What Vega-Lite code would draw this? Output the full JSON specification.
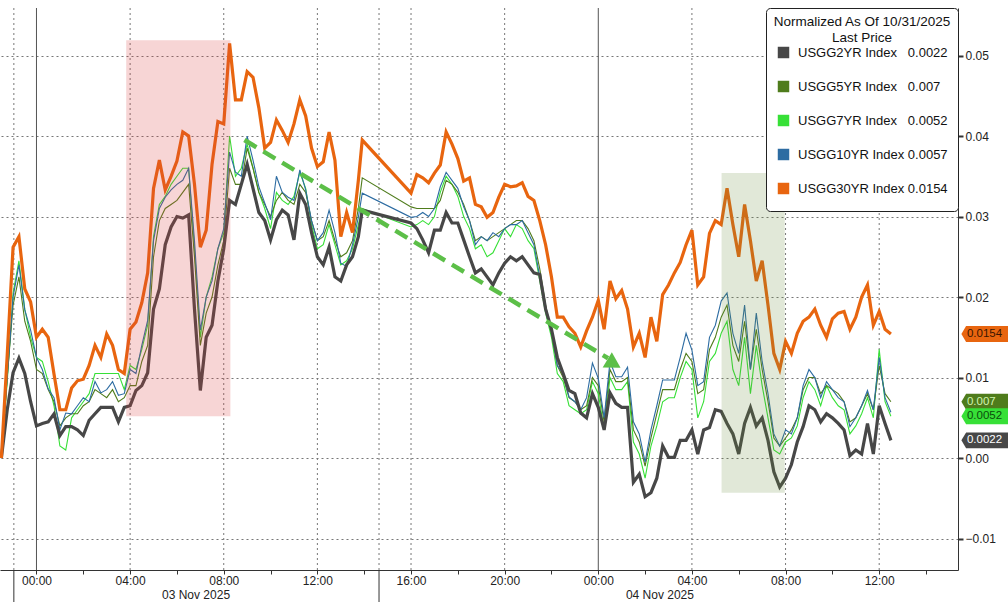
{
  "width": 958,
  "height": 562,
  "autosize": {"type": "none"},
  "padding": {"left": 0, "top": 8, "right": 50, "bottom": 32},
  "background": "white",
  "config": {
    "font": "Liberation Sans",
    "view": {"stroke": null},
    "axis": {"labelFont": "Liberation Sans", "labelColor": "#222", "labelFontSize": 12}
  },
  "data": {"values": [
      {"t":"2025-11-02T22:30Z","y2":0,"y5":0,"y7":0,"y10":0,"y30":0},
      {"t":"2025-11-02T22:45Z","y2":0.006,"y5":0.010,"y7":0.0095,"y10":0.010,"y30":0.0128},
      {"t":"2025-11-02T23:00Z","y2":0.0106,"y5":0.019,"y7":0.0205,"y10":0.020,"y30":0.0262},
      {"t":"2025-11-02T23:15Z","y2":0.0124,"y5":0.0225,"y7":0.0245,"y10":0.024,"y30":0.0275},
      {"t":"2025-11-02T23:30Z","y2":0.0105,"y5":0.017,"y7":0.0185,"y10":0.0184,"y30":0.021},
      {"t":"2025-11-02T23:45Z","y2":0.007,"y5":0.0145,"y7":0.015,"y10":0.0159,"y30":0.0194},
      {"t":"2025-11-03T00:00Z","y2":0.004,"y5":0.011,"y7":0.0125,"y10":0.0125,"y30":0.015},
      {"t":"2025-11-03T00:15Z","y2":0.0043,"y5":0.0105,"y7":0.012,"y10":0.011,"y30":0.016},
      {"t":"2025-11-03T00:30Z","y2":0.0045,"y5":0.0085,"y7":0.0095,"y10":0.0086,"y30":0.015},
      {"t":"2025-11-03T00:45Z","y2":0.0055,"y5":0.007,"y7":0.0065,"y10":0.0075,"y30":0.0104},
      {"t":"2025-11-03T01:00Z","y2":0.0028,"y5":0.004,"y7":0.0015,"y10":0.0035,"y30":0.006},
      {"t":"2025-11-03T01:15Z","y2":0.0039,"y5":0.005,"y7":0.001,"y10":0.0056,"y30":0.006},
      {"t":"2025-11-03T01:30Z","y2":0.0039,"y5":0.0055,"y7":0.005,"y10":0.0055,"y30":0.0087},
      {"t":"2025-11-03T01:45Z","y2":0.0035,"y5":0.0055,"y7":0.006,"y10":0.0065,"y30":0.0096},
      {"t":"2025-11-03T02:00Z","y2":0.0028,"y5":0.0065,"y7":0.007,"y10":0.0075,"y30":0.0098},
      {"t":"2025-11-03T02:15Z","y2":0.0047,"y5":0.007,"y7":0.008,"y10":0.007,"y30":0.0115},
      {"t":"2025-11-03T02:30Z","y2":0.0055,"y5":0.0085,"y7":0.0105,"y10":0.0095,"y30":0.014},
      {"t":"2025-11-03T02:45Z","y2":0.0063,"y5":0.008,"y7":0.0105,"y10":0.0081,"y30":0.0125},
      {"t":"2025-11-03T03:00Z","y2":0.0063,"y5":0.0075,"y7":0.0105,"y10":0.0085,"y30":0.0154},
      {"t":"2025-11-03T03:15Z","y2":0.0063,"y5":0.0085,"y7":0.0105,"y10":0.0095,"y30":0.014},
      {"t":"2025-11-03T03:30Z","y2":0.0045,"y5":0.007,"y7":0.0105,"y10":0.0078,"y30":0.011},
      {"t":"2025-11-03T03:45Z","y2":0.0063,"y5":0.0075,"y7":0.0085,"y10":0.008,"y30":0.0105},
      {"t":"2025-11-03T04:00Z","y2":0.0065,"y5":0.009,"y7":0.0115,"y10":0.011,"y30":0.016},
      {"t":"2025-11-03T04:15Z","y2":0.0084,"y5":0.009,"y7":0.011,"y10":0.0105,"y30":0.0169},
      {"t":"2025-11-03T04:30Z","y2":0.009,"y5":0.012,"y7":0.0135,"y10":0.014,"y30":0.0193},
      {"t":"2025-11-03T04:45Z","y2":0.0106,"y5":0.014,"y7":0.0165,"y10":0.0171,"y30":0.023},
      {"t":"2025-11-03T05:00Z","y2":0.0185,"y5":0.025,"y7":0.0275,"y10":0.027,"y30":0.0335},
      {"t":"2025-11-03T05:15Z","y2":0.021,"y5":0.0295,"y7":0.0315,"y10":0.031,"y30":0.037},
      {"t":"2025-11-03T05:30Z","y2":0.0265,"y5":0.031,"y7":0.0325,"y10":0.0324,"y30":0.0333},
      {"t":"2025-11-03T05:45Z","y2":0.0287,"y5":0.0315,"y7":0.034,"y10":0.0333,"y30":0.035},
      {"t":"2025-11-03T06:00Z","y2":0.030,"y5":0.032,"y7":0.035,"y10":0.034,"y30":0.0369},
      {"t":"2025-11-03T06:15Z","y2":0.0298,"y5":0.033,"y7":0.036,"y10":0.0345,"y30":0.0405},
      {"t":"2025-11-03T06:30Z","y2":0.0302,"y5":0.034,"y7":0.036,"y10":0.036,"y30":0.040},
      {"t":"2025-11-03T06:45Z","y2":0.0185,"y5":0.025,"y7":0.026,"y10":0.027,"y30":0.034},
      {"t":"2025-11-03T07:00Z","y2":0.0084,"y5":0.014,"y7":0.015,"y10":0.0159,"y30":0.0262},
      {"t":"2025-11-03T07:15Z","y2":0.015,"y5":0.018,"y7":0.020,"y10":0.020,"y30":0.0283},
      {"t":"2025-11-03T07:30Z","y2":0.0165,"y5":0.020,"y7":0.0225,"y10":0.022,"y30":0.0365},
      {"t":"2025-11-03T07:45Z","y2":0.022,"y5":0.024,"y7":0.026,"y10":0.026,"y30":0.0418},
      {"t":"2025-11-03T08:00Z","y2":0.026,"y5":0.027,"y7":0.028,"y10":0.0285,"y30":0.0415},
      {"t":"2025-11-03T08:15Z","y2":0.032,"y5":0.036,"y7":0.040,"y10":0.038,"y30":0.0515},
      {"t":"2025-11-03T08:30Z","y2":0.0315,"y5":0.034,"y7":0.035,"y10":0.0355,"y30":0.0445},
      {"t":"2025-11-03T08:45Z","y2":0.034,"y5":0.034,"y7":0.036,"y10":0.035,"y30":0.0445},
      {"t":"2025-11-03T09:00Z","y2":0.0365,"y5":0.0385,"y7":0.039,"y10":0.040,"y30":0.048},
      {"t":"2025-11-03T09:15Z","y2":0.0335,"y5":0.036,"y7":0.036,"y10":0.037,"y30":0.0473},
      {"t":"2025-11-03T09:30Z","y2":0.0305,"y5":0.033,"y7":0.033,"y10":0.0337,"y30":0.0435},
      {"t":"2025-11-03T09:45Z","y2":0.0295,"y5":0.0315,"y7":0.031,"y10":0.0317,"y30":0.0385},
      {"t":"2025-11-03T10:00Z","y2":0.0271,"y5":0.030,"y7":0.0285,"y10":0.0296,"y30":0.0392},
      {"t":"2025-11-03T10:15Z","y2":0.0296,"y5":0.032,"y7":0.033,"y10":0.035,"y30":0.042},
      {"t":"2025-11-03T10:30Z","y2":0.0308,"y5":0.033,"y7":0.032,"y10":0.033,"y30":0.0407},
      {"t":"2025-11-03T10:45Z","y2":0.0302,"y5":0.032,"y7":0.0315,"y10":0.0324,"y30":0.0392},
      {"t":"2025-11-03T11:00Z","y2":0.0271,"y5":0.0315,"y7":0.0325,"y10":0.032,"y30":0.0415},
      {"t":"2025-11-03T11:15Z","y2":0.0329,"y5":0.034,"y7":0.0355,"y10":0.0358,"y30":0.0445},
      {"t":"2025-11-03T11:30Z","y2":0.0315,"y5":0.033,"y7":0.0335,"y10":0.0333,"y30":0.0425},
      {"t":"2025-11-03T11:45Z","y2":0.028,"y5":0.0295,"y7":0.029,"y10":0.0295,"y30":0.0385},
      {"t":"2025-11-03T12:00Z","y2":0.025,"y5":0.027,"y7":0.026,"y10":0.027,"y30":0.0362},
      {"t":"2025-11-03T12:15Z","y2":0.024,"y5":0.0275,"y7":0.0265,"y10":0.028,"y30":0.0368},
      {"t":"2025-11-03T12:30Z","y2":0.0262,"y5":0.0295,"y7":0.029,"y10":0.0308,"y30":0.0405},
      {"t":"2025-11-03T12:45Z","y2":0.0225,"y5":0.027,"y7":0.0265,"y10":0.028,"y30":0.037},
      {"t":"2025-11-03T13:00Z","y2":0.022,"y5":0.025,"y7":0.024,"y10":0.0242,"y30":0.0275},
      {"t":"2025-11-03T13:15Z","y2":0.024,"y5":0.0255,"y7":0.0245,"y10":0.0238,"y30":0.0305},
      {"t":"2025-11-03T13:30Z","y2":0.025,"y5":0.027,"y7":0.026,"y10":0.0265,"y30":0.028},
      {"t":"2025-11-03T13:45Z","y2":0.0275,"y5":0.031,"y7":0.029,"y10":0.0299,"y30":0.0345},
      {"t":"2025-11-03T13:55Z","y2":0.0308,"y5":0.0348,"y7":0.031,"y10":0.0329,"y30":0.0395},
      {"t":"2025-11-03T16:00Z","y2":0.0292,"y5":0.0312,"y7":0.0287,"y10":0.0299,"y30":0.0329},
      {"t":"2025-11-03T16:15Z","y2":0.0285,"y5":0.031,"y7":0.029,"y10":0.030,"y30":0.0352},
      {"t":"2025-11-03T16:30Z","y2":0.0271,"y5":0.031,"y7":0.0295,"y10":0.0305,"y30":0.0348},
      {"t":"2025-11-03T16:45Z","y2":0.0255,"y5":0.031,"y7":0.029,"y10":0.030,"y30":0.0342},
      {"t":"2025-11-03T17:00Z","y2":0.0283,"y5":0.031,"y7":0.030,"y10":0.031,"y30":0.0354},
      {"t":"2025-11-03T17:15Z","y2":0.0283,"y5":0.032,"y7":0.033,"y10":0.0337,"y30":0.0364},
      {"t":"2025-11-03T17:30Z","y2":0.0305,"y5":0.0345,"y7":0.035,"y10":0.0355,"y30":0.0405},
      {"t":"2025-11-03T17:45Z","y2":0.0292,"y5":0.034,"y7":0.034,"y10":0.0345,"y30":0.039},
      {"t":"2025-11-03T18:00Z","y2":0.0292,"y5":0.033,"y7":0.0325,"y10":0.0335,"y30":0.0372},
      {"t":"2025-11-03T18:15Z","y2":0.0271,"y5":0.0315,"y7":0.030,"y10":0.0312,"y30":0.0344},
      {"t":"2025-11-03T18:30Z","y2":0.025,"y5":0.0295,"y7":0.0285,"y10":0.0295,"y30":0.0348},
      {"t":"2025-11-03T18:45Z","y2":0.023,"y5":0.027,"y7":0.026,"y10":0.0265,"y30":0.0315},
      {"t":"2025-11-03T19:00Z","y2":0.0235,"y5":0.0275,"y7":0.0265,"y10":0.0275,"y30":0.0312},
      {"t":"2025-11-03T19:15Z","y2":0.0225,"y5":0.027,"y7":0.025,"y10":0.027,"y30":0.0299},
      {"t":"2025-11-03T19:30Z","y2":0.0215,"y5":0.0275,"y7":0.0255,"y10":0.028,"y30":0.0305},
      {"t":"2025-11-03T19:45Z","y2":0.023,"y5":0.028,"y7":0.027,"y10":0.0275,"y30":0.0324},
      {"t":"2025-11-03T20:00Z","y2":0.0242,"y5":0.0285,"y7":0.0285,"y10":0.0285,"y30":0.034},
      {"t":"2025-11-03T20:15Z","y2":0.025,"y5":0.029,"y7":0.0275,"y10":0.029,"y30":0.0337},
      {"t":"2025-11-03T20:30Z","y2":0.0245,"y5":0.0295,"y7":0.029,"y10":0.029,"y30":0.0338},
      {"t":"2025-11-03T20:45Z","y2":0.025,"y5":0.0295,"y7":0.0285,"y10":0.0295,"y30":0.0342},
      {"t":"2025-11-03T21:00Z","y2":0.024,"y5":0.0285,"y7":0.027,"y10":0.028,"y30":0.0325},
      {"t":"2025-11-03T21:15Z","y2":0.023,"y5":0.027,"y7":0.026,"y10":0.0265,"y30":0.032},
      {"t":"2025-11-03T21:30Z","y2":0.0228,"y5":0.0235,"y7":0.022,"y10":0.0225,"y30":0.0295},
      {"t":"2025-11-03T21:45Z","y2":0.0185,"y5":0.019,"y7":0.018,"y10":0.0185,"y30":0.0265},
      {"t":"2025-11-03T22:00Z","y2":0.016,"y5":0.0155,"y7":0.015,"y10":0.0158,"y30":0.0225},
      {"t":"2025-11-03T22:15Z","y2":0.0125,"y5":0.0115,"y7":0.0105,"y10":0.0115,"y30":0.0175},
      {"t":"2025-11-03T22:30Z","y2":0.0105,"y5":0.010,"y7":0.0095,"y10":0.0105,"y30":0.0175},
      {"t":"2025-11-03T22:45Z","y2":0.0084,"y5":0.0075,"y7":0.0065,"y10":0.0076,"y30":0.0163},
      {"t":"2025-11-03T23:00Z","y2":0.008,"y5":0.007,"y7":0.006,"y10":0.007,"y30":0.0155},
      {"t":"2025-11-03T23:15Z","y2":0.0056,"y5":0.006,"y7":0.0055,"y10":0.006,"y30":0.0138},
      {"t":"2025-11-03T23:30Z","y2":0.005,"y5":0.0065,"y7":0.006,"y10":0.0075,"y30":0.0158},
      {"t":"2025-11-03T23:45Z","y2":0.008,"y5":0.010,"y7":0.0095,"y10":0.0118,"y30":0.0175},
      {"t":"2025-11-04T00:00Z","y2":0.0063,"y5":0.009,"y7":0.008,"y10":0.0099,"y30":0.0196},
      {"t":"2025-11-04T00:15Z","y2":0.0035,"y5":0.0045,"y7":0.0035,"y10":0.005,"y30":0.016},
      {"t":"2025-11-04T00:30Z","y2":0.0081,"y5":0.011,"y7":0.010,"y10":0.012,"y30":0.022},
      {"t":"2025-11-04T00:45Z","y2":0.0068,"y5":0.0095,"y7":0.0085,"y10":0.0101,"y30":0.0198},
      {"t":"2025-11-04T01:00Z","y2":0.0063,"y5":0.0095,"y7":0.0085,"y10":0.0101,"y30":0.0208},
      {"t":"2025-11-04T01:15Z","y2":0.0063,"y5":0.010,"y7":0.0095,"y10":0.0113,"y30":0.0185},
      {"t":"2025-11-04T01:30Z","y2":-0.003,"y5":0.0035,"y7":0.002,"y10":0.0045,"y30":0.0138},
      {"t":"2025-11-04T01:45Z","y2":-0.002,"y5":0.002,"y7":0.0005,"y10":0.003,"y30":0.0155},
      {"t":"2025-11-04T02:00Z","y2":-0.0048,"y5":-0.001,"y7":-0.0025,"y10":-0.0005,"y30":0.0125},
      {"t":"2025-11-04T02:15Z","y2":-0.0043,"y5":0.0025,"y7":0.0015,"y10":0.0035,"y30":0.0175},
      {"t":"2025-11-04T02:30Z","y2":-0.0025,"y5":0.0055,"y7":0.004,"y10":0.0065,"y30":0.0145},
      {"t":"2025-11-04T02:45Z","y2":0.0015,"y5":0.0085,"y7":0.007,"y10":0.0097,"y30":0.0203},
      {"t":"2025-11-04T03:00Z","y2":0.0001,"y5":0.0085,"y7":0.0075,"y10":0.0097,"y30":0.0215},
      {"t":"2025-11-04T03:15Z","y2":0.0001,"y5":0.0085,"y7":0.0075,"y10":0.0097,"y30":0.023},
      {"t":"2025-11-04T03:30Z","y2":0.0022,"y5":0.011,"y7":0.010,"y10":0.0125,"y30":0.0243},
      {"t":"2025-11-04T03:45Z","y2":0.0022,"y5":0.013,"y7":0.012,"y10":0.0155,"y30":0.0265},
      {"t":"2025-11-04T04:00Z","y2":0.0035,"y5":0.012,"y7":0.011,"y10":0.0134,"y30":0.0283},
      {"t":"2025-11-04T04:15Z","y2":0.0005,"y5":0.008,"y7":0.005,"y10":0.009,"y30":0.0215},
      {"t":"2025-11-04T04:30Z","y2":0.0035,"y5":0.0085,"y7":0.007,"y10":0.0095,"y30":0.0225},
      {"t":"2025-11-04T04:45Z","y2":0.0038,"y5":0.0135,"y7":0.012,"y10":0.015,"y30":0.0279},
      {"t":"2025-11-04T05:00Z","y2":0.006,"y5":0.015,"y7":0.013,"y10":0.0165,"y30":0.0295},
      {"t":"2025-11-04T05:15Z","y2":0.0058,"y5":0.0175,"y7":0.0155,"y10":0.0195,"y30":0.029},
      {"t":"2025-11-04T05:30Z","y2":0.0043,"y5":0.019,"y7":0.017,"y10":0.0205,"y30":0.0335},
      {"t":"2025-11-04T05:45Z","y2":0.003,"y5":0.014,"y7":0.011,"y10":0.0155,"y30":0.029},
      {"t":"2025-11-04T06:00Z","y2":0.0005,"y5":0.012,"y7":0.009,"y10":0.013,"y30":0.025},
      {"t":"2025-11-04T06:15Z","y2":0.0043,"y5":0.017,"y7":0.015,"y10":0.019,"y30":0.0315},
      {"t":"2025-11-04T06:30Z","y2":0.0063,"y5":0.011,"y7":0.008,"y10":0.011,"y30":0.027},
      {"t":"2025-11-04T06:45Z","y2":0.004,"y5":0.016,"y7":0.014,"y10":0.018,"y30":0.022},
      {"t":"2025-11-04T07:00Z","y2":0.005,"y5":0.011,"y7":0.009,"y10":0.012,"y30":0.0245},
      {"t":"2025-11-04T07:15Z","y2":0.0022,"y5":0.007,"y7":0.005,"y10":0.008,"y30":0.019},
      {"t":"2025-11-04T07:30Z","y2":-0.0017,"y5":0.0025,"y7":0.001,"y10":0.003,"y30":0.013},
      {"t":"2025-11-04T07:45Z","y2":-0.0036,"y5":0.0015,"y7":0.0005,"y10":0.0015,"y30":0.011},
      {"t":"2025-11-04T08:00Z","y2":-0.0025,"y5":0.0025,"y7":0.002,"y10":0.0035,"y30":0.0145},
      {"t":"2025-11-04T08:15Z","y2":-0.0008,"y5":0.0035,"y7":0.0025,"y10":0.003,"y30":0.013},
      {"t":"2025-11-04T08:30Z","y2":0.002,"y5":0.005,"y7":0.004,"y10":0.005,"y30":0.0155},
      {"t":"2025-11-04T08:45Z","y2":0.0039,"y5":0.0085,"y7":0.0075,"y10":0.009,"y30":0.017},
      {"t":"2025-11-04T09:00Z","y2":0.0065,"y5":0.010,"y7":0.0095,"y10":0.011,"y30":0.0175},
      {"t":"2025-11-04T09:15Z","y2":0.006,"y5":0.010,"y7":0.0085,"y10":0.010,"y30":0.0185},
      {"t":"2025-11-04T09:30Z","y2":0.0045,"y5":0.008,"y7":0.0065,"y10":0.0075,"y30":0.0165},
      {"t":"2025-11-04T09:45Z","y2":0.0055,"y5":0.009,"y7":0.009,"y10":0.0095,"y30":0.015},
      {"t":"2025-11-04T10:00Z","y2":0.005,"y5":0.0085,"y7":0.0075,"y10":0.0085,"y30":0.0173},
      {"t":"2025-11-04T10:15Z","y2":0.0043,"y5":0.008,"y7":0.0065,"y10":0.0075,"y30":0.018},
      {"t":"2025-11-04T10:30Z","y2":0.0035,"y5":0.007,"y7":0.006,"y10":0.007,"y30":0.0182},
      {"t":"2025-11-04T10:45Z","y2":0.0003,"y5":0.0045,"y7":0.003,"y10":0.0039,"y30":0.016},
      {"t":"2025-11-04T11:00Z","y2":0.001,"y5":0.005,"y7":0.004,"y10":0.005,"y30":0.0175},
      {"t":"2025-11-04T11:15Z","y2":0.0005,"y5":0.0065,"y7":0.0055,"y10":0.0065,"y30":0.020},
      {"t":"2025-11-04T11:30Z","y2":0.0043,"y5":0.008,"y7":0.0075,"y10":0.0084,"y30":0.0215},
      {"t":"2025-11-04T11:45Z","y2":0.0005,"y5":0.006,"y7":0.005,"y10":0.006,"y30":0.0165},
      {"t":"2025-11-04T12:00Z","y2":0.0065,"y5":0.0115,"y7":0.0135,"y10":0.0125,"y30":0.0182},
      {"t":"2025-11-04T12:15Z","y2":0.0043,"y5":0.008,"y7":0.007,"y10":0.0075,"y30":0.016},
      {"t":"2025-11-04T12:30Z","y2":0.0022,"y5":0.007,"y7":0.0052,"y10":0.0057,"y30":0.0154}
  ]},
  "layer": [
    {
      "data": {"values": [{"t": "2025-11-03T04:00Z"}, {"t": "2025-11-03T08:00Z"}, {"t": "2025-11-03T12:00Z"}, {"t": "2025-11-03T16:00Z"}, {"t": "2025-11-03T20:00Z"}, {"t": "2025-11-04T04:00Z"}, {"t": "2025-11-04T08:00Z"}, {"t": "2025-11-04T12:00Z"}, {"t": "2025-11-02T23:02Z"}, {"t": "2025-11-03T14:38Z"}]},
      "mark": {"type": "rule", "color": "#777", "strokeWidth": 1, "strokeDash": [2, 3]},
      "encoding": {
        "x": {"field": "t", "type": "temporal"},
        "y": {"datum": -0.0139},
        "y2": {"datum": 0.0559}
      }
    },
    {
      "data": {"values": [{"t": "2025-11-03T00:00Z"}, {"t": "2025-11-04T00:00Z"}]},
      "mark": {"type": "rule", "color": "#555", "strokeWidth": 1},
      "encoding": {
        "x": {"field": "t", "type": "temporal"},
        "y": {"datum": -0.0139},
        "y2": {"datum": 0.0559}
      }
    },
    {
      "data": {"values": [{"t": "2025-11-02T23:02Z"}, {"t": "2025-11-03T14:38Z"}]},
      "mark": {"type": "rule", "color": "#333", "strokeWidth": 1},
      "encoding": {
        "x": {"field": "t", "type": "temporal"},
        "y": {"datum": -0.0139},
        "y2": {"datum": -0.0179}
      }
    },
    {
      "data": {"values": [{"t": "2025-11-03T06:49Z", "label": "03 Nov 2025"}, {"t": "2025-11-04T02:38Z", "label": "04 Nov 2025"}]},
      "mark": {"type": "text", "fontSize": 12, "color": "#222", "baseline": "middle"},
      "encoding": {
        "x": {"field": "t", "type": "temporal"},
        "y": {"datum": -0.0170},
        "text": {"field": "label", "type": "nominal"}
      }
    },
    {
      "transform": [{"fold": ["y7", "y5", "y10"], "as": ["s", "v"]}],
      "mark": {"type": "line", "strokeWidth": 1.1},
      "encoding": {
        "x": {
          "field": "t", "type": "temporal",
          "scale": {"type": "utc", "domain": [{"year": 2025, "month": 11, "date": 2, "hours": 22, "minutes": 26, "seconds": 30, "utc": true}, {"year": 2025, "month": 11, "date": 4, "hours": 15, "minutes": 22, "utc": true}], "nice": false},
          "axis": {
            "orient": "bottom", "title": null,
            "values": [
              {"year": 2025, "month": 11, "date": 3, "hours": 0, "utc": true},
              {"year": 2025, "month": 11, "date": 3, "hours": 2, "utc": true},
              {"year": 2025, "month": 11, "date": 3, "hours": 4, "utc": true},
              {"year": 2025, "month": 11, "date": 3, "hours": 6, "utc": true},
              {"year": 2025, "month": 11, "date": 3, "hours": 8, "utc": true},
              {"year": 2025, "month": 11, "date": 3, "hours": 10, "utc": true},
              {"year": 2025, "month": 11, "date": 3, "hours": 12, "utc": true},
              {"year": 2025, "month": 11, "date": 3, "hours": 14, "utc": true},
              {"year": 2025, "month": 11, "date": 3, "hours": 16, "utc": true},
              {"year": 2025, "month": 11, "date": 3, "hours": 18, "utc": true},
              {"year": 2025, "month": 11, "date": 3, "hours": 20, "utc": true},
              {"year": 2025, "month": 11, "date": 3, "hours": 22, "utc": true},
              {"year": 2025, "month": 11, "date": 4, "hours": 0, "utc": true},
              {"year": 2025, "month": 11, "date": 4, "hours": 2, "utc": true},
              {"year": 2025, "month": 11, "date": 4, "hours": 4, "utc": true},
              {"year": 2025, "month": 11, "date": 4, "hours": 6, "utc": true},
              {"year": 2025, "month": 11, "date": 4, "hours": 8, "utc": true},
              {"year": 2025, "month": 11, "date": 4, "hours": 10, "utc": true},
              {"year": 2025, "month": 11, "date": 4, "hours": 12, "utc": true},
              {"year": 2025, "month": 11, "date": 4, "hours": 14, "utc": true}
            ],
            "labelExpr": "utchours(datum.value) % 4 == 0 ? utcFormat(datum.value, '%H:%M') : ''",
            "labelOverlap": false, "labelFlush": false,
            "tickSize": 4, "labelPadding": 1, "tickColor": "#333", "domainColor": "#333",
            "grid": false
          }
        },
        "y": {
          "field": "v", "type": "quantitative",
          "scale": {"domain": [-0.0139, 0.0559], "nice": false, "zero": false},
          "axis": {
            "orient": "right", "title": null,
            "values": [-0.01, 0, 0.01, 0.02, 0.03, 0.04, 0.05],
            "format": ".2f", "grid": true, "gridDash": [2, 3], "gridColor": "#777",
            "tickSize": 5, "tickWidth": 2, "tickColor": "#333", "domainColor": "#333", "labelPadding": 2
          }
        },
        "color": {
          "field": "s", "type": "nominal",
          "scale": {"domain": ["y2", "y5", "y7", "y10", "y30"], "range": ["#474747", "#4f7c1c", "#37e037", "#2d6ca2", "#e8650f"]},
          "legend": {
            "title": ["Normalized As Of 10/31/2025", "Last Price"],
            "orient": "top-right", "offset": 0, "padding": 7,
            "strokeColor": "#222", "fillColor": "#ffffff", "cornerRadius": 4,
            "titleFontSize": 13.5, "titleFontWeight": "normal", "titleColor": "#111",
            "titleAnchor": "middle", "titlePadding": 2,
            "labelFontSize": 13, "labelColor": "#111", "labelLimit": 300,
            "symbolType": "square", "symbolSize": 30, "symbolStrokeWidth": 6, "rowPadding": 3, "labelOffset": 8,
            "labelExpr": "datum.label == 'y2' ? 'USGG2YR Index\u00a0\u00a0\u00a00.0022' : datum.label == 'y5' ? 'USGG5YR Index\u00a0\u00a0\u00a00.007' : datum.label == 'y7' ? 'USGG7YR Index\u00a0\u00a0\u00a00.0052' : datum.label == 'y10' ? 'USGG10YR Index\u00a00.0057' : 'USGG30YR Index\u00a00.0154'"
          }
        }
      }
    },
    {
      "transform": [{"fold": ["y2"], "as": ["s", "v"]}],
      "mark": {"type": "line", "strokeWidth": 3.2},
      "encoding": {
        "x": {"field": "t", "type": "temporal"},
        "y": {"field": "v", "type": "quantitative"},
        "color": {"field": "s", "type": "nominal"}
      }
    },
    {
      "transform": [{"fold": ["y30"], "as": ["s", "v"]}],
      "mark": {"type": "line", "strokeWidth": 3.2},
      "encoding": {
        "x": {"field": "t", "type": "temporal"},
        "y": {"field": "v", "type": "quantitative"},
        "color": {"field": "s", "type": "nominal"}
      }
    },
    {
      "data": {"values": [{"start": "2025-11-03T03:50Z", "end": "2025-11-03T08:17Z", "lo": 0.0052, "hi": 0.0519}]},
      "mark": {"type": "rect", "color": "#d94040", "opacity": 0.22},
      "encoding": {
        "x": {"field": "start", "type": "temporal"},
        "x2": {"field": "end"},
        "y": {"field": "lo", "type": "quantitative"},
        "y2": {"field": "hi"}
      }
    },
    {
      "data": {"values": [{"start": "2025-11-04T05:16Z", "end": "2025-11-04T07:58Z", "lo": -0.0043, "hi": 0.0354}]},
      "mark": {"type": "rect", "color": "#6b8a3a", "opacity": 0.2},
      "encoding": {
        "x": {"field": "start", "type": "temporal"},
        "x2": {"field": "end"},
        "y": {"field": "lo", "type": "quantitative"},
        "y2": {"field": "hi"}
      }
    },
    {
      "data": {"values": [{"t": "2025-11-03T08:53Z", "v": 0.0395}, {"t": "2025-11-04T00:25Z", "v": 0.0124}]},
      "mark": {"type": "line", "color": "#5cbf48", "strokeWidth": 4.5, "strokeDash": [14, 8]},
      "encoding": {
        "x": {"field": "t", "type": "temporal"},
        "y": {"field": "v", "type": "quantitative"}
      }
    },
    {
      "data": {"values": [{"t": "2025-11-04T00:40Z", "v": 0.0117}]},
      "mark": {"type": "point", "shape": "triangle-right", "filled": true, "color": "#5cbf48", "opacity": 1, "size": 320, "angle": 31},
      "encoding": {
        "x": {"field": "t", "type": "temporal"},
        "y": {"field": "v", "type": "quantitative"}
      }
    },
    {
      "data": {"values": [
        {"s": "y30", "v": 0.0154, "label": "0.0154", "t": "2025-11-04T12:30Z"},
        {"s": "y5", "v": 0.007, "label": "0.007", "t": "2025-11-04T12:30Z"},
        {"s": "y7", "v": 0.0052, "label": "0.0052", "t": "2025-11-04T12:30Z"},
        {"s": "y2", "v": 0.0022, "label": "0.0022", "t": "2025-11-04T12:30Z"}
      ]},
      "mark": {"type": "point", "shape": "M-1,0L-0.8,-0.34L1,-0.34L1,0.34L-0.8,0.34Z", "filled": true, "opacity": 1, "size": 2209, "xOffset": 94},
      "encoding": {
        "x": {"field": "t", "type": "temporal"},
        "y": {"field": "v", "type": "quantitative"},
        "color": {"field": "s", "type": "nominal", "legend": null}
      }
    },
    {
      "data": {"values": [
        {"s": "y30", "v": 0.0154, "label": "0.0154", "t": "2025-11-04T12:30Z"},
        {"s": "y5", "v": 0.007, "label": "0.007", "t": "2025-11-04T12:30Z"},
        {"s": "y7", "v": 0.0052, "label": "0.0052", "t": "2025-11-04T12:30Z"},
        {"s": "y2", "v": 0.0022, "label": "0.0022", "t": "2025-11-04T12:30Z"}
      ]},
      "mark": {"type": "text", "align": "left", "baseline": "middle", "dx": 76, "fontSize": 11.5},
      "encoding": {
        "x": {"field": "t", "type": "temporal"},
        "y": {"field": "v", "type": "quantitative"},
        "text": {"field": "label", "type": "nominal"},
        "fill": {"field": "s", "type": "nominal", "scale": {"domain": ["y2", "y5", "y7", "y30"], "range": ["#ffffff", "#d2f5b0", "#0b4d0b", "#3a1500"]}, "legend": null}
      }
    }
  ]
}
